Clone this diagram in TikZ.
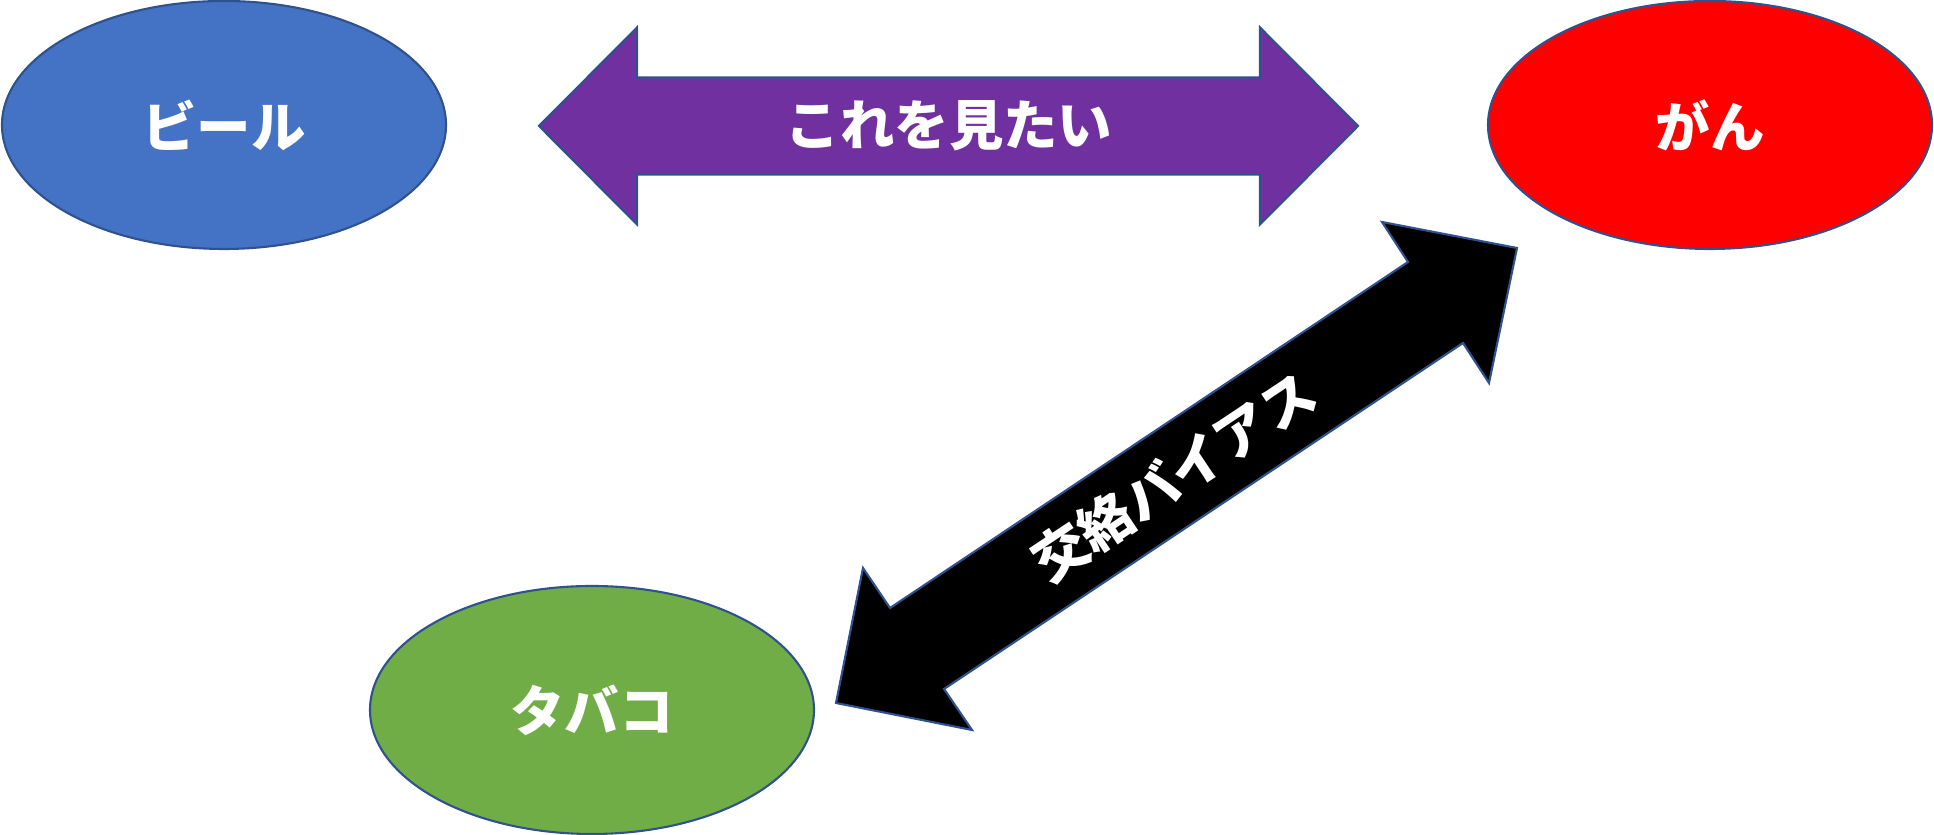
\documentclass[tikz,border=0pt]{standalone}
\usepackage{fontspec}
\newfontfamily\jpfont{Noto Sans CJK JP}
\usepackage{tikz}
\usetikzlibrary{shapes.geometric, calc}
\usepackage{xcolor}
\definecolor{birra}{HTML}{4472C4}
\definecolor{cancro}{HTML}{FF0000}
\definecolor{tabacco}{HTML}{70AD47}
\definecolor{viola}{HTML}{7030A0}
\definecolor{bordo}{HTML}{2F528F}

\tikzset{
    ovale/.style = {ellipse, draw = bordo, line width = 0.6pt, minimum width = 4.44cm, minimum height = 2.48cm, inner sep = 0pt, text = white, font = \jpfont\bfseries\fontsize{15.5}{18}\selectfont},
    freccia/.style = {draw = bordo, line width = 0.6pt, line join = miter},
    scritta/.style = {text = white, inner sep = 0pt, font = \jpfont\bfseries\fontsize{15.5}{18}\selectfont}
}

\begin{document}
\begin{tikzpicture}
    % Parametri
    \pgfmathsetmacro{\larg}{19.34}
    \pgfmathsetmacro{\alt}{8.35}
    \pgfmathsetmacro{\ymezzo}{7.09}
    \pgfmathsetmacro{\punta}{0.98}
    \pgfmathsetmacro{\asta}{0.485}
    \pgfmathsetmacro{\ala}{0.985}
    \useasboundingbox (0,0) rectangle (\larg,\alt);
    % Ellissi
    \node[ovale, fill = birra] (birra) at (2.24,7.10) {ビール};
    \node[ovale, fill = cancro] (cancro) at (17.10,7.10) {がん};
    \node[ovale, fill = tabacco] (tabacco) at (5.92,1.25) {タバコ};
    % Freccia viola
    \fill[viola] (5.39,\ymezzo) -- ({5.39+\punta},{\ymezzo+\ala}) -- ({5.39+\punta},{\ymezzo+\asta}) -- ({13.58-\punta},{\ymezzo+\asta}) -- ({13.58-\punta},{\ymezzo+\ala}) -- (13.58,\ymezzo) -- ({13.58-\punta},{\ymezzo-\ala}) -- ({13.58-\punta},{\ymezzo-\asta}) -- ({5.39+\punta},{\ymezzo-\asta}) -- ({5.39+\punta},{\ymezzo-\ala}) -- cycle;
    \draw[freccia] (5.39,\ymezzo) -- ({5.39+\punta},{\ymezzo+\ala}) -- ({5.39+\punta},{\ymezzo+\asta}) -- ({13.58-\punta},{\ymezzo+\asta}) -- ({13.58-\punta},{\ymezzo+\ala}) -- (13.58,\ymezzo) -- ({13.58-\punta},{\ymezzo-\ala}) -- ({13.58-\punta},{\ymezzo-\asta}) -- ({5.39+\punta},{\ymezzo-\asta}) -- ({5.39+\punta},{\ymezzo-\ala}) -- cycle;
    \node[scritta] (vedere) at (9.49,\ymezzo) {これを見たい};
    % Freccia nera
    \draw[freccia, fill = black] (15.17,5.87) -- (14.89,4.52) -- (14.63,4.92) -- (9.44,1.46) -- (9.72,1.05) -- (8.36,1.32) -- (8.63,2.67) -- (8.90,2.27) -- (14.08,5.73) -- (13.82,6.13) -- cycle;
    \node[scritta, rotate = 33.7] (bias) at (11.74,3.58) {交絡バイアス};
\end{tikzpicture}
\end{document}
